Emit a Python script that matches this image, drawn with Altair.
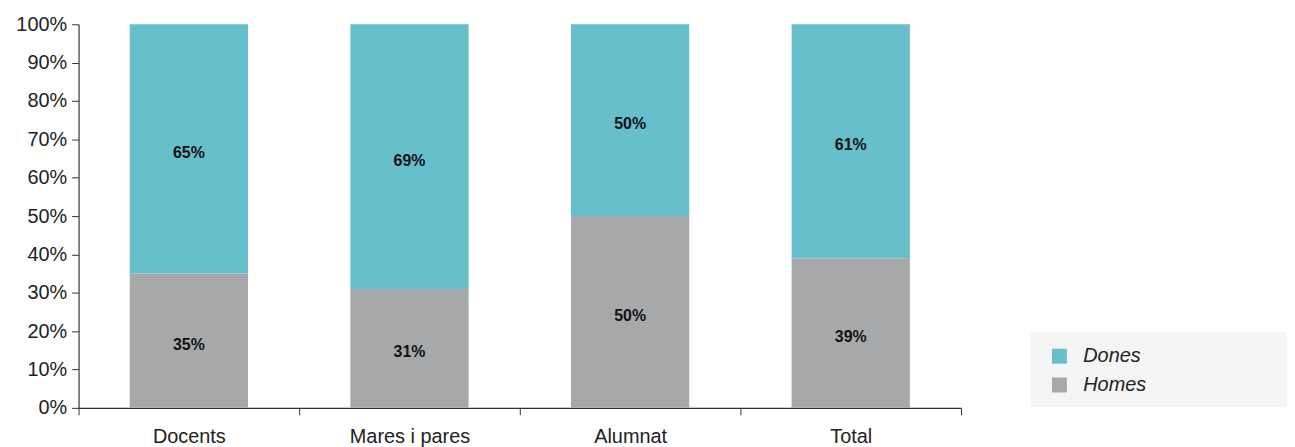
import altair as alt
import pandas as pd

categories = ["Docents", "Mares i pares", "Alumnat", "Total"]
homes = [35, 31, 50, 39]
dones = [65, 69, 50, 61]
series = ["Dones", "Homes"]
colors = ["#67bfcb", "#a7a8aa"]
y_ticks = [0, 10, 20, 30, 40, 50, 60, 70, 80, 90, 100]

rows = []
for c, h, d in zip(categories, homes, dones):
    rows.append({"cat": c, "serie": "Homes", "val": h, "ord": 0})
    rows.append({"cat": c, "serie": "Dones", "val": d, "ord": 1})
df = pd.DataFrame(rows)

FONT = "Liberation Sans"

base = alt.Chart(df).transform_stack(
    stack="val", groupby=["cat"], as_=["v0", "v1"], sort=[alt.SortField("ord")]
).transform_calculate(
    mid="(datum.v0 + datum.v1) / 2",
    lbl="datum.val + '%'",
)

x_axis = alt.Axis(
    title=None, labelAngle=0, tickBand="extent", labelFontSize=20,
    labelFont=FONT, labelColor="#222", domainColor="#333", tickColor="#333",
    tickSize=7, labelPadding=12, domainWidth=1.2, labelOverlap=False,
)
y_axis = alt.Axis(
    title=None, values=y_ticks,
    labelExpr="datum.value + '%'", grid=False, labelFontSize=20,
    labelFont=FONT, labelColor="#222", domainColor="#333",
    tickColor="#333", tickSize=7, labelPadding=5, domainWidth=1.2,
    labelOverlap=False,
)
x_scale = alt.Scale(paddingInner=0, paddingOuter=0)
y_scale = alt.Scale(domain=[0, 100])

bars = base.mark_bar(size=119).encode(
    x=alt.X("cat:N", sort=categories, scale=x_scale, axis=x_axis),
    y=alt.Y("v0:Q", scale=y_scale, axis=y_axis),
    y2="v1:Q",
    color=alt.Color(
        "serie:N",
        scale=alt.Scale(domain=series, range=colors),
        legend=alt.Legend(
            title=None, orient="none", legendX=977, legendY=324,
            symbolType="square", symbolSize=225, symbolStrokeWidth=0,
            labelFontSize=20, labelFont=FONT, labelFontStyle="italic",
            labelColor="#222", rowPadding=9, labelOffset=14, padding=0,
        ),
    ),
)

labels = base.mark_text(
    fontWeight="bold", fontSize=16, font=FONT, color="#111", dy=4
).encode(
    x=alt.X("cat:N", sort=categories, scale=x_scale, axis=x_axis),
    y=alt.Y("mid:Q", scale=y_scale, axis=y_axis),
    text="lbl:N",
)

legend_bg = alt.Chart(pd.DataFrame({"a": [0]})).mark_rect(
    color="#f4f5f4"
).encode(
    x=alt.value(958), x2=alt.value(1222), y=alt.value(310), y2=alt.value(385)
)

chart = alt.layer(legend_bg, bars, labels).properties(
    width=888, height=386,
    autosize=alt.AutoSizeParams(type="none"),
    padding={"left": 71, "top": 15, "right": 328, "bottom": 38},
).configure_view(stroke=None, clip=False)

chart.save("out.html", embed_options={"renderer": "svg", "actions": False})
